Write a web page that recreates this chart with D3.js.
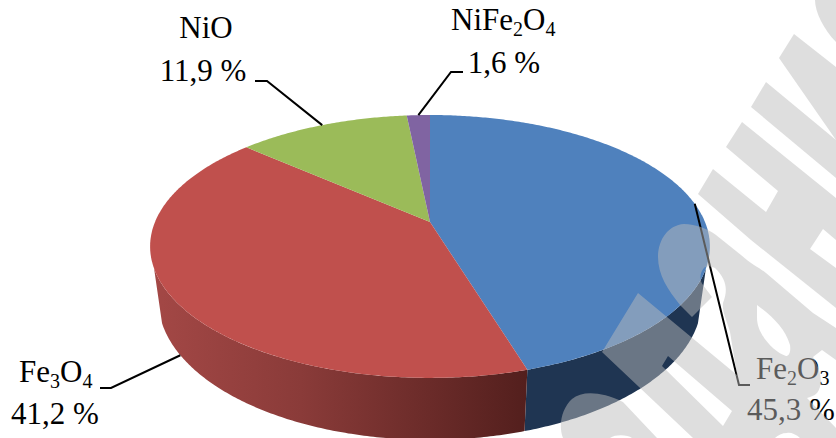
<!DOCTYPE html>
<html>
<head>
<meta charset="utf-8">
<script src="https://cdn.jsdelivr.net/npm/d3@7/dist/d3.min.js"></script>
<style>
  html, body { margin: 0; padding: 0; background: #fff; }
  svg { display: block; }
  text { font-family: "Liberation Serif", serif; font-size: 31px; fill: #000; }
</style>
</head>
<body>
<script>
// Phase composition of the oxide, per cent
const phases = ["Fe2O3", "Fe3O4", "NiO", "NiFe2O4"];
const shares = [45.3, 41.2, 11.9, 1.6];
const faceColors = ["#4f81bd", "#c0504d", "#9bbb59", "#8064a2"];

// Label placement: elbow of the leader, end of the leader, and text anchors
const leaderElbow = [[739, 385], [111, 388], [267, 81], [451, 72]];
const leaderEnd = [[750, 385], [100, 388], [255, 81], [463, 72]];
const nameAt = [[756, 385], [19, 388], [206, 44], [451, 36]];
const nameAnchor = ["start", "start", "middle", "start"];
const valueAt = [[791, 420], [55, 424], [203, 81], [504, 73]];

const width = 836, height = 438;
const svg = d3.select("body").append("svg").attr("width", width).attr("height", height);

// Perspective projection of a disc: the same rule for the upper and lower rim
const tilt = -0.186;
const upperRim = { cx: 430, cy: 222, a: 275, b: 126.9 };
const lowerRim = { cx: 430, cy: 274, a: 267, b: 135 };
function project(rim, angle) {
  const u = Math.sin(angle), v = -Math.cos(angle), d = 1 + tilt * v;
  return [rim.cx + rim.a * u / d, rim.cy + rim.b * v / d];
}
function arcPoints(rim, a0, a1) {
  const n = Math.max(2, Math.ceil(Math.abs(a1 - a0) / 0.01));
  return d3.range(n + 1).map(i => project(rim, a0 + (a1 - a0) * i / n));
}

const pie = d3.pie().sort(null).startAngle(0).endAngle(2 * Math.PI);
const slices = pie(shares);
const outline = d3.line().curve(d3.curveLinearClosed);

// Rim sections facing the viewer
const frontStart = 110 * Math.PI / 180, frontEnd = 250 * Math.PI / 180;

const defs = svg.append("defs");
const sideStops = [
  [["#1f3552", 0], ["#1f3552", 1]],
  [["#a44846", 0], ["#8a3b39", 0.4], ["#531f1d", 1]]
];
const sideSpan = [[527, 710], [150, 527]];
sideStops.forEach((stops, i) => {
  const g = defs.append("linearGradient").attr("id", "side" + i)
    .attr("gradientUnits", "userSpaceOnUse")
    .attr("x1", sideSpan[i][0]).attr("x2", sideSpan[i][1]).attr("y1", 0).attr("y2", 0);
  stops.forEach(s => g.append("stop").attr("offset", s[1]).attr("stop-color", s[0]));
});

// Cylinder wall
svg.append("g").selectAll("path")
  .data(slices.map((d, i) => ({ d, i }))
    .filter(o => o.d.startAngle < frontEnd && o.d.endAngle > frontStart))
  .join("path")
  .attr("d", o => {
    const a0 = Math.max(o.d.startAngle, frontStart), a1 = Math.min(o.d.endAngle, frontEnd);
    return outline(arcPoints(upperRim, a0, a1).concat(arcPoints(lowerRim, a1, a0)));
  })
  .attr("fill", o => `url(#side${o.i})`);

// Top face
svg.append("g").selectAll("path")
  .data(slices)
  .join("path")
  .attr("d", d => outline([[upperRim.cx, upperRim.cy]].concat(arcPoints(upperRim, d.startAngle, d.endAngle))))
  .attr("fill", (d, i) => faceColors[i]);

// Leaders: the lower rim carries the one whose slice is read from the wall
const midAngle = d => (d.startAngle + d.endAngle) / 2;
const anchorRim = [upperRim, lowerRim, upperRim, upperRim];
svg.append("g").selectAll("path")
  .data(slices)
  .join("path")
  .attr("d", (d, i) => d3.line()([project(anchorRim[i], midAngle(d)), leaderElbow[i], leaderEnd[i]]))
  .attr("fill", "none").attr("stroke", "#000").attr("stroke-width", 2);

// Labels: digits in a formula are set as subscripts
const comma = v => v.toFixed(1).replace(".", ",") + " %";
const labels = svg.append("g").selectAll("g").data(phases).join("g");
const names = labels.append("text")
  .attr("x", (d, i) => nameAt[i][0]).attr("y", (d, i) => nameAt[i][1])
  .attr("text-anchor", (d, i) => nameAnchor[i]);
names.each(function (name) {
  const t = d3.select(this);
  name.match(/\d|\D+/g).forEach(part => {
    const sub = /\d/.test(part);
    t.append("tspan").text(part)
      .attr("dy", sub ? 6 : (this.childNodes.length ? -6 : 0))
      .style("font-size", sub ? "20px" : "31px");
  });
});
labels.append("text")
  .attr("x", (d, i) => valueAt[i][0]).attr("y", (d, i) => valueAt[i][1])
  .attr("text-anchor", "middle")
  .text((d, i) => comma(shares[i]));

// Diagonal stamp laid across the page
const stampPaths = [
  "M815,0 C815,12 824,30 836,42 L836,0Z",
  "M794,34 L836,67 L836,140 L779,58Z",
  "M766,82 L836,140 L836,178 L751,107Z",
  "M742,122 L836,198 L836,240 L823,229 L810,249 L836,268 L836,308 L751,240 L698,194 L713,169 L766,212 L778,191 L726,147Z",
  "M684,224 C696,224 708,229 716,235 L741,255 C752,265 760,268 766,273 L813,313 L836,328 L836,360 L822,350 L813,357 " +
    "C822,372 823,385 817,393 C814,396 810,397 807,398 L836,428 L836,438 L800,438 C796,434 790,432 787,433 " +
    "C782,433 778,435 775,438 L693,438 L602,352 L638,293 L737,375 L730,332 C726,318 722,312 723,303 " +
    "C728,290 727,280 715,268 C710,266 706,266 704,268 C700,272 699,280 703,285 L712,297 L692,317 L680,305 " +
    "C668,290 658,275 658,257 C658,240 668,225 684,224Z",
  "M757,305 C772,316 785,328 790,345 C791,352 789,356 786,356 C775,353 757,335 757,318Z",
  "M668,356 L732,411 L723,426 L662,366Z",
  "M563,438 C558,425 562,408 572,399 C582,391 600,391 623,402 L657,438 L632,438 C628,435 616,434 610,438Z"
];
svg.append("path")
  .attr("d", stampPaths.join(""))
  .attr("fill", "#bbb").attr("fill-opacity", 0.487).attr("fill-rule", "evenodd");
</script>
</body>
</html>
